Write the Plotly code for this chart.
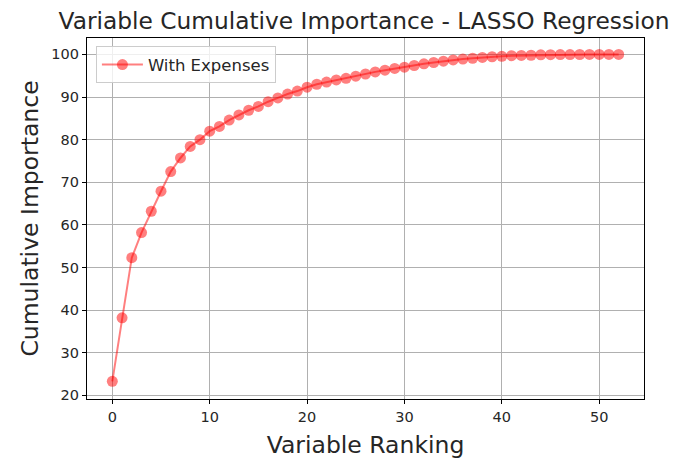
import plotly.graph_objects as go

ranking = list(range(53))
cumulative_importance = [
    23.3, 38.2, 52.3, 58.2, 63.2, 67.9, 72.5, 75.7, 78.4, 80.0,
    82.0, 83.1, 84.6, 85.8, 86.9, 87.8, 88.9, 89.8, 90.7, 91.4,
    92.3, 93.0, 93.5, 94.0, 94.4, 94.9, 95.4, 95.9, 96.3, 96.7,
    97.0, 97.4, 97.8, 98.1, 98.4, 98.7, 98.9, 99.1, 99.3, 99.45,
    99.55, 99.7, 99.75, 99.8, 99.9, 99.93, 99.95, 99.97, 99.98, 99.99,
    100.0, 100.0, 100.0,
]
series_name = "With Expenses"
title_text = "Variable Cumulative Importance - LASSO Regression"
x_title = "Variable Ranking"
y_title = "Cumulative Importance"

font_family = "DejaVu Sans"
text_color = "#262626"
grid_color = "#b0b0b0"

fig = go.Figure()
fig.add_trace(go.Scatter(
    x=ranking,
    y=cumulative_importance,
    mode="lines+markers",
    name=series_name,
    line=dict(color="rgba(255,0,0,0.5)", width=2),
    marker=dict(color="rgba(255,0,0,0.5)", size=11, line=dict(width=0)),
))

axis_common = dict(
    showline=True, linecolor="black", linewidth=1.2, mirror=True,
    showgrid=True, gridcolor=grid_color, gridwidth=1,
    ticks="outside", ticklen=4, tickwidth=1, tickcolor="black",
    tickfont=dict(family=font_family, size=14.5, color=text_color),
    zeroline=False, automargin=False,
)

fig.update_layout(
    width=676, height=461,
    margin=dict(l=87, r=32, t=38, b=62),
    paper_bgcolor="white", plot_bgcolor="white",
    font=dict(family=font_family, color=text_color),
    title=dict(text=title_text, x=0.5385, xanchor="center", y=0.955, yanchor="middle",
               font=dict(family=font_family, size=23.3, color=text_color)),
    xaxis=dict(range=[-2.6, 54.6], tickvals=[0, 10, 20, 30, 40, 50],
               title=dict(text=x_title, font=dict(family=font_family, size=23.5, color=text_color), standoff=13),
               **axis_common),
    yaxis=dict(range=[19.15, 103.85], tickvals=[20, 30, 40, 50, 60, 70, 80, 90, 100],
               title=dict(text=y_title, font=dict(family=font_family, size=23.5, color=text_color), standoff=6),
               **axis_common),
    showlegend=True,
    legend=dict(x=0.016, y=0.977, xanchor="left", yanchor="top",
                itemwidth=41,
                bgcolor="rgba(255,255,255,0.8)", bordercolor="#cccccc", borderwidth=1,
                font=dict(family=font_family, size=16.5, color=text_color)),
)

fig.write_html("out.html", config={"displayModeBar": False},
               post_script="document.body.style.margin='0';")
